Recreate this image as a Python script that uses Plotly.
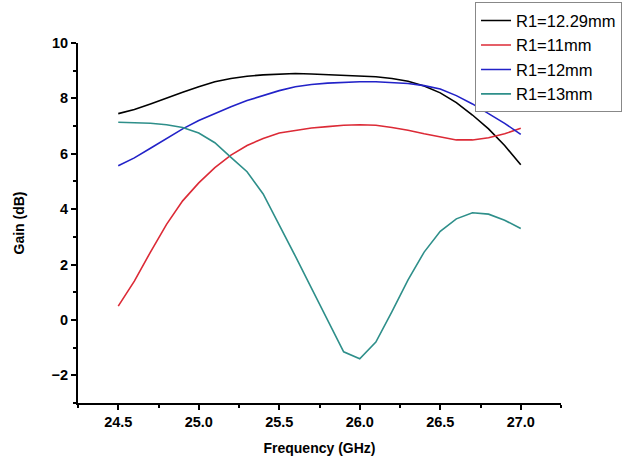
import plotly.graph_objects as go

freq = [24.5, 24.6, 24.7, 24.8, 24.9, 25.0, 25.1, 25.2, 25.3, 25.4, 25.5, 25.6, 25.7,
        25.8, 25.9, 26.0, 26.1, 26.2, 26.3, 26.4, 26.5, 26.6, 26.7, 26.8, 26.9, 27.0]

gain_1229 = [7.45, 7.6, 7.8, 8.02, 8.22, 8.42, 8.6, 8.72, 8.8, 8.85, 8.88, 8.9, 8.88,
             8.85, 8.83, 8.8, 8.78, 8.72, 8.62, 8.45, 8.2, 7.85, 7.4, 6.9, 6.3, 5.6]
gain_11 = [0.5, 1.4, 2.45, 3.45, 4.3, 4.95, 5.5, 5.95, 6.3, 6.55, 6.75, 6.85, 6.93,
           6.98, 7.03, 7.05, 7.03, 6.95, 6.85, 6.72, 6.6, 6.5, 6.5, 6.58, 6.72, 6.92]
gain_12 = [5.57, 5.85, 6.2, 6.55, 6.9, 7.2, 7.45, 7.7, 7.92, 8.1, 8.28, 8.42, 8.5,
           8.55, 8.58, 8.6, 8.6, 8.58, 8.54, 8.46, 8.34, 8.1, 7.8, 7.45, 7.1, 6.7]
gain_13 = [7.14, 7.12, 7.1, 7.05, 6.95, 6.75, 6.4, 5.87, 5.35, 4.55, 3.45, 2.3, 1.15,
           0.0, -1.15, -1.4, -0.8, 0.3, 1.45, 2.45, 3.2, 3.65, 3.87, 3.82, 3.6, 3.3]

series = [
    ("R1=12.29mm", gain_1229, "#000000"),
    ("R1=11mm", gain_11, "#dc2a36"),
    ("R1=12mm", gain_12, "#2222c8"),
    ("R1=13mm", gain_13, "#2e8f8a"),
]

x_ticks = [24.5, 25.0, 25.5, 26.0, 26.5, 27.0]
y_ticks = [-2, 0, 2, 4, 6, 8, 10]

fig = go.Figure()
for name, vals, col in series:
    fig.add_trace(go.Scatter(x=freq, y=vals, mode="lines", name=name,
                             line=dict(color=col, width=1.6)))

font_family = "Liberation Sans, Arial, sans-serif"

fig.update_layout(
    width=628, height=464,
    margin=dict(l=78, r=67, t=43, b=61, autoexpand=False),
    plot_bgcolor="white", paper_bgcolor="white",
    font=dict(family=font_family, color="#000000"),
    showlegend=True,
    legend=dict(
        x=0.822, y=1.113, xanchor="left", yanchor="top",
        bordercolor="#888888", borderwidth=1, bgcolor="white",
        font=dict(size=16.5, family=font_family, color="#000000"),
        tracegroupgap=0, itemwidth=30,
    ),
    xaxis=dict(
        range=[24.25, 27.25], tickvals=x_ticks,
        ticktext=[f"{v:.1f}" for v in x_ticks],
        showline=True, linecolor="black", linewidth=2,
        ticks="outside", ticklen=5, tickwidth=1.5, tickcolor="black",
        minor=dict(tick0=24.25, dtick=0.25, ticks="outside", ticklen=3,
                   tickwidth=1.5, tickcolor="black"),
        showgrid=False, zeroline=False,
        tickfont=dict(size=14.5, family=font_family, weight="bold"),
        title=dict(text="<b>Frequency (GHz)</b>", font=dict(size=14), standoff=14),
    ),
    yaxis=dict(
        range=[-3, 10], tickvals=y_ticks,
        showline=True, linecolor="black", linewidth=2,
        ticks="outside", ticklen=5, tickwidth=1.5, tickcolor="black",
        minor=dict(tick0=-3, dtick=1, ticks="outside", ticklen=3,
                   tickwidth=1.5, tickcolor="black"),
        showgrid=False, zeroline=False,
        tickfont=dict(size=14.5, family=font_family, weight="bold"),
        title=dict(text="<b>Gain (dB)</b>", font=dict(size=14), standoff=24),
    ),
)

fig.write_html("out.html")
